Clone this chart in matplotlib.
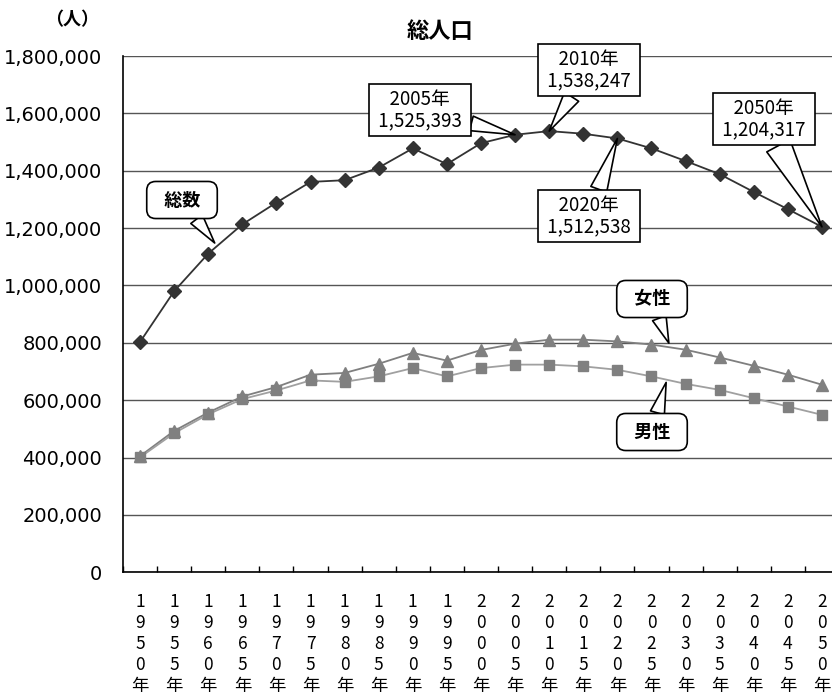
import matplotlib
matplotlib.use("Agg")
import matplotlib.pyplot as plt
from matplotlib import font_manager
from matplotlib.ticker import FuncFormatter
import numpy as np

# 年次（5年ごと）
years = [1950, 1955, 1960, 1965, 1970, 1975, 1980, 1985, 1990, 1995, 2000,
         2005, 2010, 2015, 2020, 2025, 2030, 2035, 2040, 2045, 2050]

# 総数・女性・男性（人）
total = [803000, 980000, 1111000, 1213000, 1289000, 1361000, 1367000, 1411000,
         1478000, 1423000, 1496000, 1525393, 1538247, 1529000, 1512538, 1478000,
         1434000, 1388000, 1326000, 1266000, 1204317]
female = [405000, 493000, 557000, 613000, 646000, 689000, 695000, 727000,
          765000, 738000, 775000, 797000, 811000, 811000, 805000, 794000,
          776000, 749000, 720000, 689000, 654000]
male = [401000, 485000, 551000, 604000, 634000, 669000, 664000, 683000,
        712000, 683000, 712000, 724000, 724000, 718000, 706000, 683000,
        657000, 636000, 607000, 578000, 549000]

# 吹き出しで示す年
callout_years = [2005, 2010, 2020, 2050]

available = {f.name for f in font_manager.fontManager.ttflist}
narrow = [f for f in ["Liberation Sans Narrow", "Noto Sans CJK JP", "DejaVu Sans"]
          if f in available]
cjk = [f for f in ["Noto Sans CJK JP", "DejaVu Sans"] if f in available]
plt.rcParams["font.family"] = cjk

fig = plt.figure(figsize=(8.32, 6.98), dpi=100)
W, H = 832, 698
ax = fig.add_axes([123 / W, 1 - 572.3 / H, (839 - 123) / W, (572.3 - 56) / H])

x = np.arange(len(years))
ax.plot(x, total, color="#333333", lw=1.3, marker="D", ms=7,
        mfc="#333333", mec="#333333", zorder=4)
ax.plot(x, female, color="#7f7f7f", lw=1.3, marker="^", ms=9,
        mfc="#808080", mec="#808080", zorder=3)
ax.plot(x, male, color="#a0a0a0", lw=1.3, marker="s", ms=7.5,
        mfc="#808080", mec="#808080", zorder=3)

ax.set_xlim(-0.5, len(years) - 0.5)
ax.set_ylim(0, 1800000)
ax.set_yticks(np.arange(0, 1800001, 200000))
ax.yaxis.set_major_formatter(FuncFormatter(lambda v, p: f"{int(v):,}"))
ax.grid(axis="y", color="#555555", lw=1.0)
ax.set_axisbelow(True)
for s in ["top", "right"]:
    ax.spines[s].set_visible(False)
ax.spines["left"].set_color("black")
ax.spines["bottom"].set_color("black")
ax.spines["left"].set_linewidth(1.2)
ax.spines["bottom"].set_linewidth(1.2)

ax.tick_params(axis="y", length=0, pad=15)
for lab in ax.get_yticklabels():
    lab.set_fontfamily("DejaVu Sans")
    lab.set_fontsize(14)

# 縦書きの年ラベル
ax.set_xticks(x)
ax.set_xticklabels(["\n".join(str(y)) + "\n年" for y in years],
                   fontsize=12.5, family=narrow, va="top", linespacing=1.22)
ax.tick_params(axis="x", which="major", length=0, pad=15)
ax.set_xticks(np.arange(-0.5, len(years), 1), minor=True)
ax.tick_params(axis="x", which="minor", length=4, direction="in", width=1)

fig.text(440 / W, 1 - 31 / H, "総人口", ha="center", va="center",
         fontsize=16, fontweight="bold")
fig.text(72 / W, 1 - 20 / H, "（人）", ha="center", va="center",
         fontsize=13, fontweight="bold")


def callout(text, xy, center, tw, rounded=False, fs=13.5, family=None, bold=False):
    bstyle = "round,pad=0.5,rounding_size=0.5" if rounded else "square,pad=0.25"
    ax.annotate(text, xy=xy, xycoords="data",
                xytext=(center[0], H - center[1]), textcoords="figure pixels",
                ha="center", va="center", fontsize=fs,
                family=family if family else cjk,
                fontweight="bold" if bold else "normal",
                linespacing=1.05, zorder=6,
                bbox=dict(boxstyle=bstyle, fc="white", ec="black", lw=1.2),
                arrowprops=dict(arrowstyle=f"wedge,tail_width={tw},shrink_factor=0.5",
                                fc="white", ec="black", lw=1.2,
                                shrinkA=0, shrinkB=0))


centers = {2005: (420, 110), 2010: (589, 70), 2020: (589, 216), 2050: (764, 119)}
widths = {2005: 0.8, 2010: 0.9, 2020: 0.9, 2050: 1.4}
for y in callout_years:
    i = years.index(y)
    callout(f"  {y}年  \n {total[i]:,} ", (i, total[i]), centers[y],
            widths[y], family=narrow)

callout("  総数  ", (2.19, 1148000), (182, 200), 0.8, rounded=True, fs=13, bold=True)
callout("  女性  ", (15.51, 799000), (652, 299), 0.8, rounded=True, fs=13, bold=True)
callout("  男性  ", (15.43, 662000), (652, 432), 0.8, rounded=True, fs=13, bold=True)

fig.savefig("out.png", dpi=100)
